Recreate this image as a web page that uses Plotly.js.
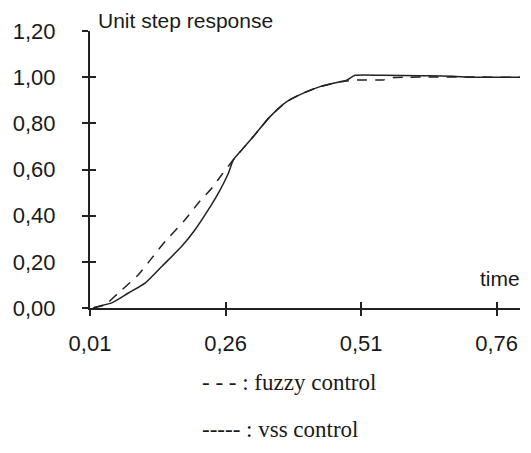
<!DOCTYPE html>
<html>
<head>
<meta charset="utf-8">
<script src="https://cdn.plot.ly/plotly-3.0.1.min.js"></script>
<style>html,body{margin:0;padding:0;background:#fff;}#chart{width:531px;height:453px;}</style>
</head>
<body>
<div id="chart"></div>
<script>
// time values and responses
var timeVss = [0.0155, 0.0253, 0.050, 0.0807, 0.1115, 0.1423, 0.1792, 0.2037, 0.2283, 0.2467, 0.2652, 0.2744, 0.2899, 0.3113, 0.3421, 0.3729, 0.4035, 0.4344, 0.4652, 0.4836, 0.4989, 0.5506, 0.6189, 0.680, 0.711, 0.803];
var vssResponse = [0.0, 0.007, 0.022, 0.065, 0.108, 0.180, 0.267, 0.339, 0.426, 0.498, 0.584, 0.642, 0.685, 0.743, 0.829, 0.894, 0.931, 0.959, 0.977, 0.987, 1.008, 1.008, 1.006, 1.004, 1.0, 1.0];

var timeFuzzy = [0.0155, 0.0377, 0.0622, 0.0991, 0.1238, 0.1484, 0.1853, 0.2098, 0.2345, 0.2530, 0.2744, 0.2899, 0.3113, 0.3421, 0.3729, 0.4035, 0.4344, 0.4652, 0.4836, 0.4989, 0.5506, 0.568, 0.60, 0.803];
var fuzzyResponse = [0.0, 0.014, 0.065, 0.144, 0.216, 0.288, 0.382, 0.455, 0.519, 0.577, 0.642, 0.685, 0.743, 0.829, 0.894, 0.931, 0.959, 0.977, 0.983, 0.988, 0.988, 0.998, 1.0, 1.0];

var xTicks = [0.01, 0.26, 0.51, 0.76];
var yTicks = [0.0, 0.2, 0.4, 0.6, 0.8, 1.0, 1.2];
var titleText = "Unit step response";
var xLabel = "time";
var legendFuzzy = "- - - : fuzzy control";
var legendVss = "----- : vss control";

var ink = "#222";
var traces = [
  {x: timeFuzzy, y: fuzzyResponse, type: "scatter", mode: "lines",
   line: {color: ink, width: 1.5, dash: "10px,8px", shape: "spline", smoothing: 0.6}, name: "fuzzy control"},
  {x: timeVss, y: vssResponse, type: "scatter", mode: "lines",
   line: {color: ink, width: 1.5, shape: "spline", smoothing: 0.6}, name: "vss control"}
];

var xr = [0.01, 0.803];
var yr = [0, 1.2];
var tickFont = {family: "Liberation Sans, Arial, sans-serif", size: 22, color: "#1a1a1a"};
var layout = {
  width: 531, height: 453,
  margin: {l: 90, r: 11, t: 31, b: 145, pad: 0},
  paper_bgcolor: "#fff", plot_bgcolor: "#fff",
  showlegend: false,
  separators: ",.",
  xaxis: {range: xr, tickvals: xTicks, tickformat: ".2f", showgrid: false, zeroline: false,
    showline: true, linecolor: ink, linewidth: 2, ticks: "outside", ticklen: 6, tickwidth: 2, tickcolor: ink,
    tickfont: tickFont, ticklabelstandoff: 9},
  yaxis: {range: yr, tickvals: yTicks, tickformat: ".2f", showgrid: false, zeroline: false,
    showline: true, linecolor: ink, linewidth: 2, ticks: "outside", ticklen: 6, tickwidth: 2, tickcolor: ink,
    tickfont: tickFont, ticklabelstandoff: 22},
  xaxis2: {range: xr, tickvals: xTicks, overlaying: "x", anchor: "y", showgrid: false, zeroline: false,
    showline: false, ticks: "inside", ticklen: 6, tickwidth: 2, tickcolor: ink, showticklabels: false},
  yaxis2: {range: yr, tickvals: yTicks, overlaying: "y", anchor: "x", showgrid: false, zeroline: false,
    showline: false, ticks: "inside", ticklen: 6, tickwidth: 2, tickcolor: ink, showticklabels: false},
  annotations: [
    {text: titleText, xref: "paper", yref: "paper", x: 0, y: 1, xanchor: "left", yanchor: "bottom",
     xshift: 6, yshift: -3, showarrow: false, font: {family: "Liberation Sans, Arial, sans-serif", size: 21, color: "#1a1a1a"}},
    {text: xLabel, xref: "paper", yref: "paper", x: 1, y: 0, xanchor: "right", yanchor: "bottom",
     xshift: 2, yshift: 16, showarrow: false, font: {family: "Liberation Sans, Arial, sans-serif", size: 21, color: "#1a1a1a"}},
    {text: legendFuzzy, xref: "paper", yref: "paper", x: 0.256, y: -0.27, xanchor: "left", yanchor: "middle",
     showarrow: false, font: {family: "Liberation Serif, Times New Roman, serif", size: 23, color: "#1a1a1a"}},
    {text: legendVss, xref: "paper", yref: "paper", x: 0.256, y: -0.44, xanchor: "left", yanchor: "middle",
     showarrow: false, font: {family: "Liberation Serif, Times New Roman, serif", size: 23, color: "#1a1a1a"}}
  ]
};
// empty trace on the overlay axes so their inner tick marks are drawn
traces.push({x: [], y: [], xaxis: "x2", yaxis: "y2", type: "scatter", mode: "lines", hoverinfo: "skip", showlegend: false});
Plotly.newPlot("chart", traces, layout, {staticPlot: true, displayModeBar: false});
</script>
</body>
</html>
